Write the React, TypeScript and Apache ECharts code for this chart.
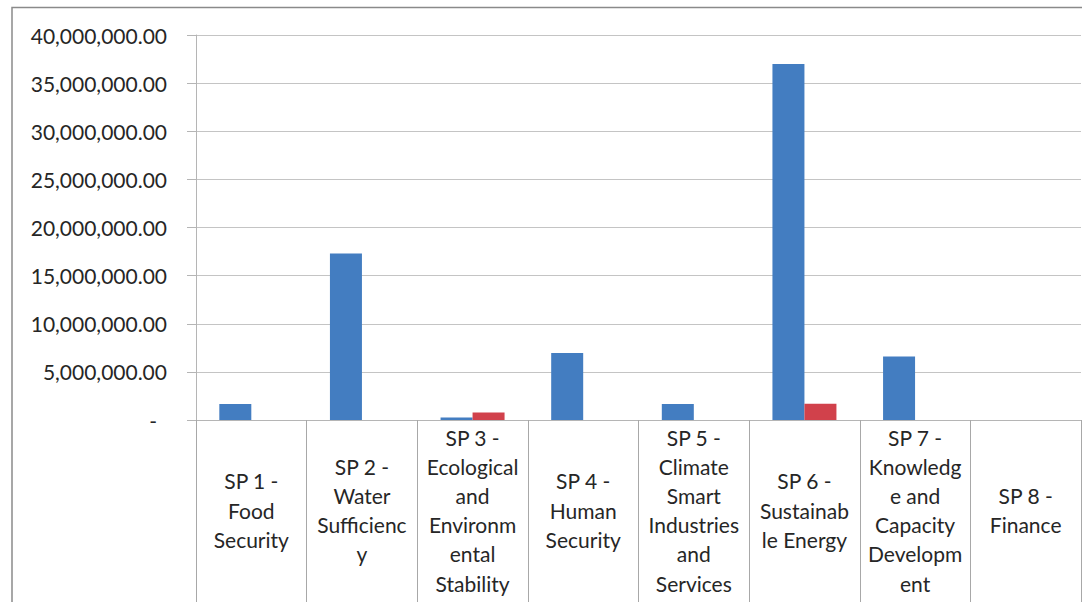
import React, { useEffect, useRef } from "react";
import * as echarts from "echarts";

const categories = [
  "SP 1 -\nFood\nSecurity",
  "SP 2 -\nWater\nSufficienc\ny",
  "SP 3 -\nEcological\nand\nEnvironm\nental\nStability",
  "SP 4 -\nHuman\nSecurity",
  "SP 5 -\nClimate\nSmart\nIndustries\nand\nServices",
  "SP 6 -\nSustainab\nle Energy",
  "SP 7 -\nKnowledg\ne and\nCapacity\nDevelopm\nent",
  "SP 8 -\nFinance",
];

const seriesBlue = [1650000, 17300000, 250000, 6950000, 1650000, 37000000, 6600000, 0];
const seriesRed = [0, 0, 780000, 0, 0, 1700000, 0, 0];

const yTicks = { min: 0, max: 40000000, interval: 5000000 };

const fmt = (v: number) =>
  v === 0
    ? "{dash|-}"
    : v.toLocaleString("en-US", { minimumFractionDigits: 2, maximumFractionDigits: 2 });

export default function App() {
  const ref = useRef<HTMLDivElement>(null);
  useEffect(() => {
    if (!ref.current) return;
    const chart = echarts.init(ref.current, null, { renderer: "svg" });
    const font = "Lato, 'Open Sans', sans-serif";
    chart.setOption({
      animation: false,
      backgroundColor: "#ffffff",
      textStyle: { fontFamily: font },
      graphic: [
        {
          type: "rect",
          shape: { x: 12, y: 7.5, width: 1200, height: 800 },
          style: { fill: "none", stroke: "#8a8a8a", lineWidth: 1.5 },
          silent: true,
        },
      ],
      grid: { left: 196, right: 1, top: 35, bottom: 182, containLabel: false },
      xAxis: {
        type: "category",
        data: categories,
        axisLine: { show: true, lineStyle: { color: "#b5b5b5", width: 1 } },
        axisTick: { show: true, length: 200, interval: 0, lineStyle: { color: "#a8a8a8", width: 1 } },
        axisLabel: {
          interval: 0,
          margin: 90,
          verticalAlign: "middle",
          fontSize: 21,
          lineHeight: 29.2,
          color: "#262626",
          fontFamily: font,
          hideOverlap: false,
        },
        splitLine: { show: false },
      },
      yAxis: {
        type: "value",
        min: yTicks.min,
        max: yTicks.max,
        interval: yTicks.interval,
        axisLine: { show: true, lineStyle: { color: "#b5b5b5", width: 1 } },
        axisTick: { show: true, length: 9, lineStyle: { color: "#b5b5b5", width: 1 } },
        splitLine: { show: true, lineStyle: { color: "#c4c4c4", width: 1 } },
        axisLabel: {
          margin: 29,
          fontSize: 21,
          color: "#262626",
          fontFamily: font,
          formatter: fmt,
          rich: { dash: { fontSize: 21, color: "#262626", padding: [0, 10, 0, 0], fontFamily: font } },
        },
      },
      series: [
        {
          name: "Series 1",
          type: "bar",
          data: seriesBlue,
          barWidth: 32,
          barGap: "0%",
          itemStyle: { color: "#437dc1" },
        },
        {
          name: "Series 2",
          type: "bar",
          data: seriesRed,
          barWidth: 32,
          barGap: "0%",
          itemStyle: { color: "#d1414b" },
        },
      ],
    });
    return () => chart.dispose();
  }, []);
  return (
    <div
      ref={ref}
      style={{ position: "fixed", left: 0, top: 0, width: 1082, height: 602 }}
    />
  );
}
